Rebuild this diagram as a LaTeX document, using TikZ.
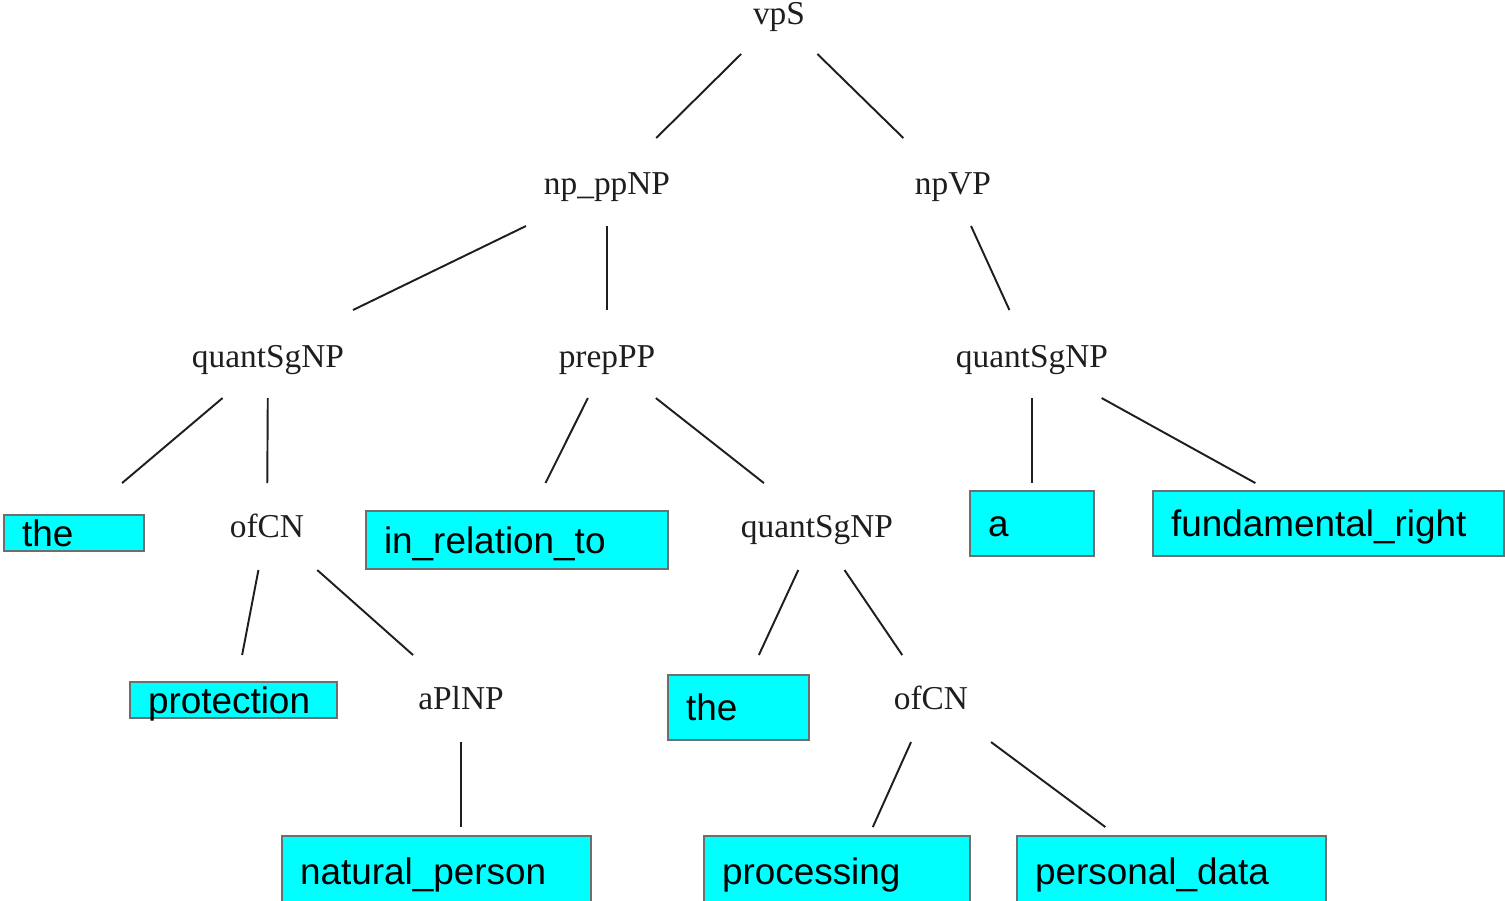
\documentclass[tikz,border=0pt]{standalone}
\usepackage{fontspec}
\newfontfamily\treeserif{Liberation Serif}
\newfontfamily\treesans{Liberation Sans}
\usetikzlibrary{calc}
\definecolor{boxgray}{HTML}{6E6E6E}
\definecolor{leafcyan}{HTML}{00FFFF}
\definecolor{inkgray}{HTML}{1E1E1E}

% draw a branch between two nodes, cut to the band between two heights
\newcommand\treeedge[4]{%
  \path (#1.center) coordinate (bp);
  \path (#2) coordinate (bc);
  \draw[edge] (intersection of bp--bc and 0,#3--1,#3) --
              (intersection of bp--bc and 0,#4--1,#4);}

\tikzset{
  cat/.style={anchor=base, inner sep=2pt, text=inkgray,
    font=\treeserif\fontsize{19}{22}\selectfont},
  leaf/.style={draw=boxgray, fill=leafcyan, line width=1.2pt,
    align=left, inner xsep=0.36cm, inner ysep=0pt,
    text height=15pt, text depth=0pt,
    font=\treesans\fontsize{21}{25}\selectfont},
  edge/.style={draw=inkgray, line width=1.1pt}
}

\begin{document}
\begin{tikzpicture}[x=0.02cm, y=-0.02cm]
\useasboundingbox (0,0) rectangle (1505,900);

% category labels
\node[cat] (vpS)  at (779,24)  {vpS};
\node[cat] (npp)  at (607,194) {np\_ppNP};
\node[cat] (npvp) at (953,194) {npVP};
\node[cat] (qL)   at (268,367) {quantSgNP};
\node[cat] (prep) at (607,367) {prepPP};
\node[cat] (qR)   at (1032,367) {quantSgNP};
\node[cat] (ofL)  at (267,537) {ofCN};
\node[cat] (qM)   at (817,537) {quantSgNP};
\node[cat] (apl)  at (461,709) {aPlNP};
\node[cat] (ofR)  at (931,709) {ofCN};

% lexical leaves
\node[leaf, text width=2.08cm, minimum height=0.72cm] (the1)  at (74,533)     {the};
\node[leaf, text width=5.32cm, minimum height=1.16cm] (inrel) at (517,540)    {in\_relation\_to};
\node[leaf, text width=3.42cm, minimum height=0.72cm] (prot)  at (233.5,700)  {protection};
\node[leaf, text width=2.10cm, minimum height=1.30cm] (the2)  at (738.5,707.5){the};
\node[leaf, text width=1.76cm, minimum height=1.30cm] (a)     at (1032,523.5) {a};
\node[leaf, text width=6.30cm, minimum height=1.30cm] (fund)  at (1328.5,523.5){fundamental\_right};
\node[leaf, text width=5.46cm, minimum height=1.40cm] (nat)   at (436.5,871)  {natural\_person};
\node[leaf, text width=4.60cm, minimum height=1.40cm] (proc)  at (837,871)    {processing};
\node[leaf, text width=5.46cm, minimum height=1.40cm] (pers)  at (1171.5,871) {personal\_data};

% branches
\treeedge{vpS}{npp}{54}{138}
\treeedge{vpS}{npvp}{54}{138}
\treeedge{npp}{[xshift=-0.34cm]qL}{226}{310}
\treeedge{npp}{prep}{226}{310}
\treeedge{npvp}{qR}{226}{310}
\treeedge{qL}{[xshift=-0.22cm]the1}{398}{483}
\treeedge{qL}{ofL}{398}{483}
\treeedge{prep}{inrel}{398}{483}
\treeedge{prep}{[xshift=0.12cm]qM}{398}{483}
\treeedge{qR}{a}{398}{483}
\treeedge{qR}{fund}{398}{483}
\treeedge{ofL}{prot}{570}{655}
\treeedge{ofL}{apl}{570}{655}
\treeedge{qM}{[xshift=-0.08cm]the2}{570}{655}
\treeedge{qM}{ofR}{570}{655}
\treeedge{apl}{apl |- nat}{742}{827}
\treeedge{ofR}{[xshift=0.32cm]proc}{742}{827}
\treeedge{ofR}{[xshift=-0.14cm]pers}{742}{827}
\end{tikzpicture}
\end{document}
